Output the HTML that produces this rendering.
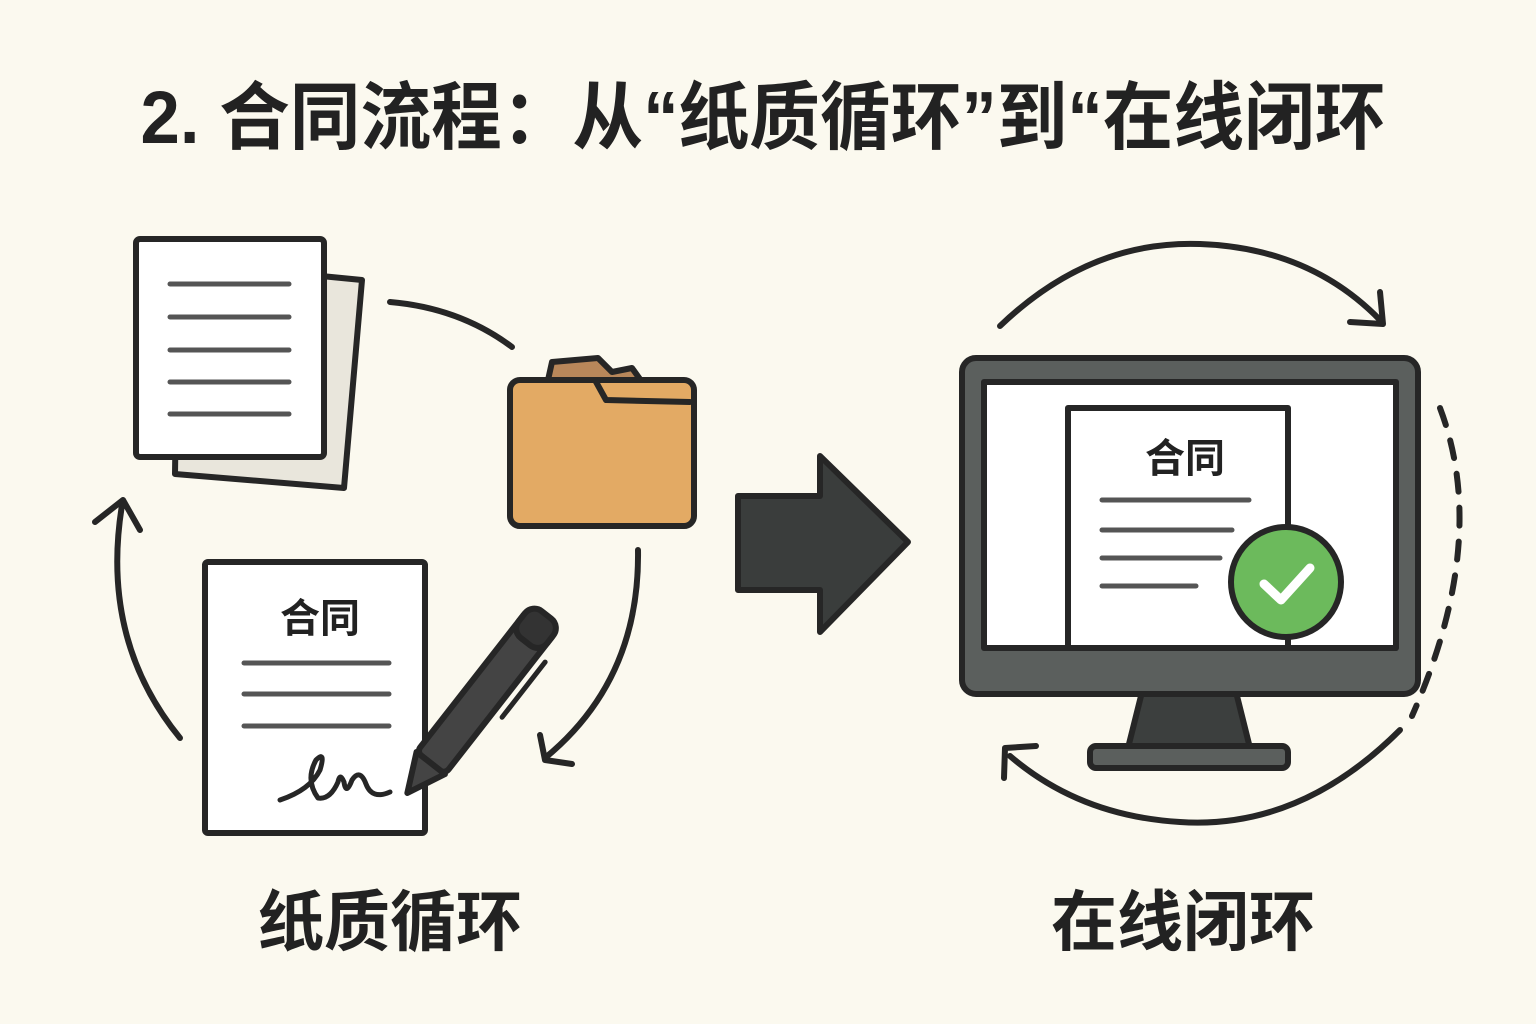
<!DOCTYPE html>
<html><head><meta charset="utf-8"><style>
html,body{margin:0;padding:0;background:#fbf9ef;}
svg{display:block}
text{font-family:"Liberation Sans","Noto Sans CJK SC",sans-serif;font-weight:bold;fill:#222}
</style></head><body>
<svg width="1536" height="1024" viewBox="0 0 1536 1024" xmlns="http://www.w3.org/2000/svg">
<rect width="1536" height="1024" fill="#fbf9ef"/>
<text x="763" y="143" font-size="74" text-anchor="middle" textLength="1245" lengthAdjust="spacingAndGlyphs">2. 合同流程：从“纸质循环”到“在线闭环</text>

<g stroke="#262626" stroke-width="6" fill="none" stroke-linecap="round" stroke-linejoin="round">
<!-- paper stack -->
<polygon points="178,262 362,280 344,488 175,474" fill="#e9e6dc"/>
<rect x="136" y="239" width="188" height="218" rx="4" fill="#fff"/>
<g stroke="#555" stroke-width="5"><line x1="170" y1="284" x2="289" y2="284"/><line x1="170" y1="317" x2="289" y2="317"/><line x1="170" y1="350" x2="289" y2="350"/><line x1="170" y1="382" x2="289" y2="382"/><line x1="170" y1="414" x2="289" y2="414"/></g>
<!-- folder -->
<path d="M548,380 L552,362 L598,358 L612,372 L632,368 L642,382 L690,385 L690,512 L548,512 Z" fill="#b8875a"/>
<rect x="510" y="380" width="184" height="146" rx="10" fill="#e3aa64"/>
<path d="M548,380 L595,380 L606,400 L690,402" fill="none"/>
<!-- cycle arrows left -->
<path d="M390,302 Q460,308 512,347"/>
<path d="M638,550 Q640,680 545,758"/>
<path d="M540,735 L545,760 L572,764"/>
<path d="M180,738 Q100,640 122,505"/>
<path d="M95,522 L123,500 L140,530"/>
<!-- contract doc -->
<rect x="205" y="562" width="220" height="271" rx="3" fill="#fff"/>
<g stroke="#555" stroke-width="5"><line x1="244" y1="663" x2="389" y2="663"/><line x1="244" y1="694" x2="389" y2="694"/><line x1="244" y1="726" x2="389" y2="726"/></g>
<path d="M280,800 Q310,790 320,770 Q326,750 316,760 Q305,780 318,798 Q330,800 338,782 Q340,772 344,782 Q346,796 352,780 Q360,768 366,784 Q372,800 390,792" stroke-width="5"/>
<!-- pen -->
<g transform="rotate(38 480 700)">
<rect x="462" y="600" width="36" height="180" rx="6" fill="#444"/>
<rect x="462" y="592" width="36" height="34" rx="12" fill="#333"/>
<polygon points="462,780 498,780 480,818" fill="#444"/>
<line x1="508" y1="630" x2="508" y2="700" stroke-width="5"/>
</g>
<!-- big arrow -->
<polygon points="738,496 820,496 820,456 908,542 820,632 820,590 738,590" fill="#3a3d3c"/>
<!-- monitor cycle -->
<path d="M1000,326 Q1090,240 1200,244 Q1310,248 1380,320"/>
<path d="M1350,322 L1383,324 L1380,292"/>
<path d="M1440,408 Q1490,540 1412,716" stroke-dasharray="18 16"/>
<path d="M1400,730 Q1300,830 1180,822 Q1080,816 1010,756"/>
<path d="M1004,778 L1005,748 L1036,746"/>
<!-- monitor -->
<polygon points="1142,692 1236,692 1250,748 1128,748" fill="#3c3f3e"/>
<rect x="1090" y="746" width="198" height="22" rx="6" fill="#5b5f5d"/>
<rect x="962" y="358" width="456" height="336" rx="14" fill="#5b5f5d"/>
<rect x="984" y="382" width="412" height="266" fill="#fff"/>
<rect x="1068" y="408" width="220" height="240" fill="#fff"/>
<g stroke="#555" stroke-width="5"><line x1="1102" y1="500" x2="1249" y2="500"/><line x1="1102" y1="530" x2="1232" y2="530"/><line x1="1102" y1="558" x2="1220" y2="558"/><line x1="1102" y1="586" x2="1196" y2="586"/></g>
<circle cx="1286" cy="582" r="55" fill="#6cba5c"/>
<path d="M1264,584 L1281,600 L1310,568" stroke="#fff" stroke-width="9"/>
</g>
<text x="320" y="632" font-size="40" text-anchor="middle">合同</text>
<text x="1185" y="472" font-size="40" text-anchor="middle">合同</text>
<text x="390" y="945" font-size="66" text-anchor="middle">纸质循环</text>
<text x="1183" y="945" font-size="66" text-anchor="middle">在线闭环</text>
</svg>
</body></html>
